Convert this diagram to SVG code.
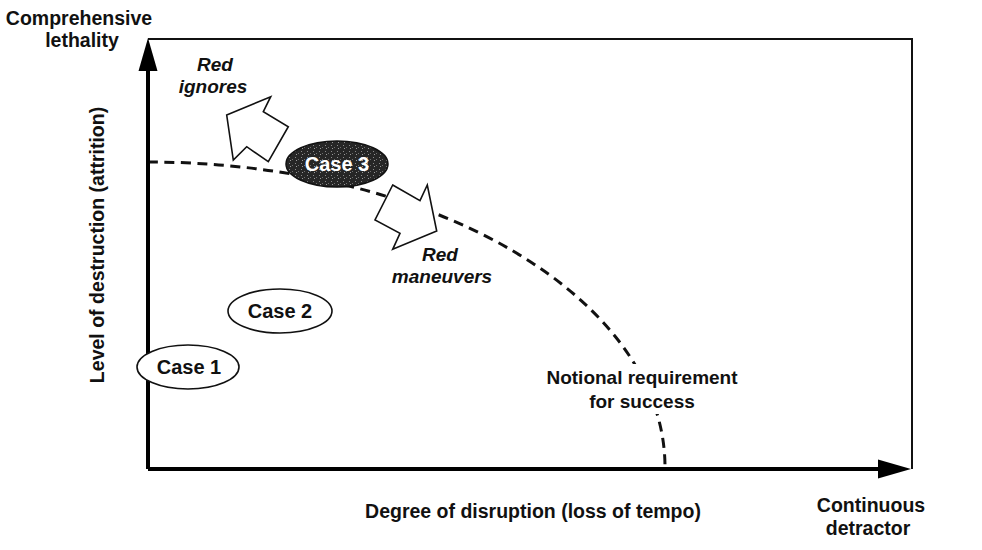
<svg xmlns="http://www.w3.org/2000/svg" width="982" height="550" viewBox="0 0 982 550">
<style>
  text { font-family: "Liberation Sans", Arial, sans-serif; fill: #111; font-weight: bold; }
  .lbl { font-size: 19.5px; }
  .nt { font-size: 19px; }
  .it { font-size: 19px; font-style: italic; }
  .case { font-size: 20px; }
  .node { fill: #fff; stroke: #111; stroke-width: 1.6; }
  .blk { fill: #fff; stroke: #111; stroke-width: 1.6; stroke-linejoin: miter; }
  .axis { stroke: #000; stroke-width: 4; fill: none; }
  .frame { stroke: #111; stroke-width: 2; fill: none; }
  .dash { stroke: #111; stroke-width: 3; fill: none; stroke-dasharray: 10 6.5; }
</style>
<defs>
  <pattern id="speck" width="6" height="6" patternUnits="userSpaceOnUse">
    <rect width="6" height="6" fill="#262626"/>
    <rect x="1" y="1" width="1" height="1" fill="#8a8a8a"/>
    <rect x="4" y="3" width="1" height="1" fill="#6e6e6e"/>
    <rect x="2" y="4" width="1" height="1" fill="#9a9a9a"/>
  </pattern>
</defs>
<rect width="982" height="550" fill="#fff"/>

<g id="connectors">
  <path class="frame" d="M148,39 H912 V469"/>
  <path class="dash" d="M148,162 A517,305 0 0 1 665,467"/>
  <line class="axis" x1="148" y1="469" x2="148" y2="68"/>
  <polygon points="148,38 138.5,71 157.5,71" fill="#000"/>
  <line class="axis" x1="148" y1="469" x2="880" y2="469"/>
  <polygon points="911,469 878,459.5 878,478.5" fill="#000"/>
</g>

<g id="axis-labels">
  <text class="lbl" x="79" y="25" text-anchor="middle">Comprehensive</text>
  <text class="lbl" x="82" y="47" text-anchor="middle">lethality</text>
  <text class="lbl" transform="translate(104,245) rotate(-90)" text-anchor="middle">Level of destruction (attrition)</text>
  <text class="lbl" x="533" y="518" text-anchor="middle">Degree of disruption (loss of tempo)</text>
  <text class="lbl" x="871" y="512" text-anchor="middle">Continuous</text>
  <text class="lbl" x="868" y="535" text-anchor="middle">detractor</text>
</g>

<g id="notional">
  <rect x="540" y="364" width="206" height="50" fill="#fff"/>
  <text class="nt" x="642" y="384" text-anchor="middle">Notional requirement</text>
  <text class="nt" x="642" y="408" text-anchor="middle">for success</text>
</g>

<g id="red-ignores">
  <polygon class="blk" points="226.7,115 270.7,96.7 263.3,111.7 288.3,126.7 268.3,161.7 246.7,146.7 233.3,160"/>
  <text class="it" x="215" y="71" text-anchor="middle">Red</text>
  <text class="it" x="213" y="93" text-anchor="middle">ignores</text>
</g>

<g id="red-maneuvers">
  <polygon class="blk" points="392.7,185 420,200.7 427.3,185 436.7,231 392.7,249.3 400,233.3 375,220"/>
  <text class="it" x="440" y="261" text-anchor="middle">Red</text>
  <text class="it" x="442" y="283" text-anchor="middle">maneuvers</text>
</g>

<g id="case3">
  <ellipse cx="337" cy="164" rx="51" ry="23" fill="url(#speck)" stroke="#111" stroke-width="1.5"/>
  <text class="case" x="337" y="171" text-anchor="middle" style="fill:#fff">Case 3</text>
</g>

<g id="case2">
  <ellipse class="node" cx="280" cy="311" rx="52" ry="22"/>
  <text class="case" x="280" y="318" text-anchor="middle">Case 2</text>
</g>

<g id="case1">
  <ellipse class="node" cx="188" cy="367" rx="51" ry="22"/>
  <text class="case" x="189" y="374" text-anchor="middle">Case 1</text>
</g>
</svg>
